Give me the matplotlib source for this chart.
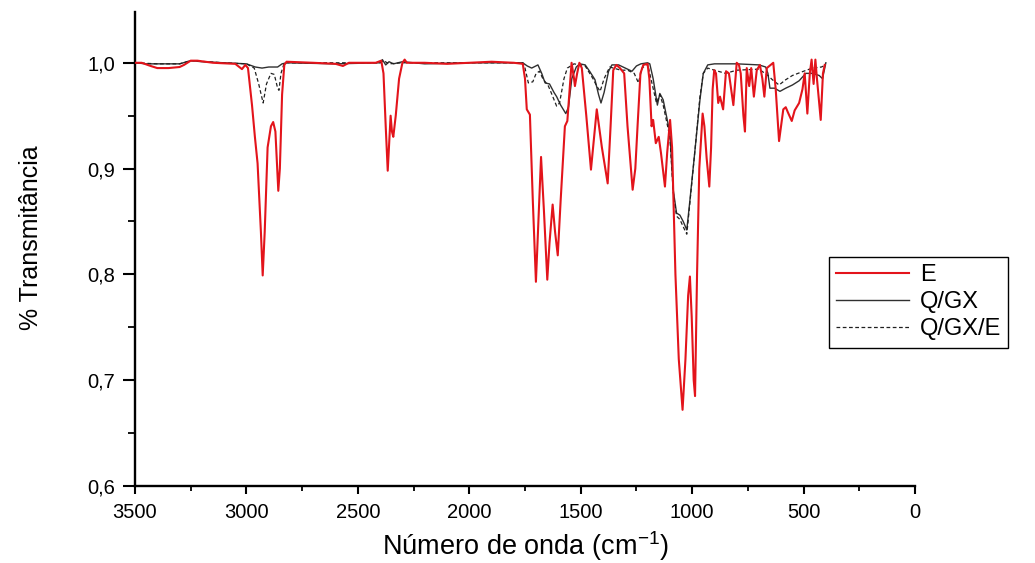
import matplotlib
matplotlib.use("Agg")
import matplotlib.pyplot as plt
from matplotlib.ticker import MultipleLocator, FuncFormatter

plt.rcParams['font.family'] = ['Liberation Sans', 'DejaVu Sans']
plt.rcParams['mathtext.fontset'] = 'custom'
plt.rcParams['mathtext.rm'] = 'Liberation Sans'
plt.rcParams['mathtext.default'] = 'regular'

# ---- data ----
e_wn = [3500, 3470, 3430, 3400, 3350, 3300, 3280, 3250, 3220, 3150, 3050, 3020, 3005, 2993,
        2975, 2962, 2950, 2935, 2927, 2918, 2905, 2890, 2880, 2870, 2862, 2857, 2850, 2840,
        2830, 2820, 2700, 2600, 2567, 2540, 2420, 2395, 2385, 2375, 2366, 2358, 2353, 2347,
        2341, 2330, 2315, 2300, 2290, 2280, 2200, 2100, 2000, 1900, 1800, 1760, 1750, 1742,
        1728, 1715, 1701, 1690, 1678, 1665, 1650, 1640, 1626, 1615, 1603, 1590, 1571, 1560,
        1541, 1530, 1526, 1516, 1506, 1495, 1475, 1454, 1440, 1428, 1405, 1379, 1366, 1354,
        1340, 1324, 1305, 1290, 1267, 1255, 1245, 1232, 1219, 1200, 1192, 1182, 1175, 1163,
        1150, 1140, 1122, 1112, 1099, 1090, 1075, 1060, 1043, 1030, 1018, 1010, 1002, 993,
        987, 978, 968, 953, 945, 935, 923, 915, 908, 901, 893, 883, 875, 861, 848, 835, 815,
        800, 790, 782, 770, 763, 755, 744, 735, 723, 710, 696, 685, 676, 665, 636, 625, 610,
        591, 580, 570, 553, 540, 520, 505, 495, 483, 472, 464, 455, 447, 440, 423, 413, 405]
e_t = [1.000, 1.000, 0.997, 0.995, 0.995, 0.996, 0.998, 1.002, 1.002, 1.000, 0.999, 0.994, 0.998, 0.995,
       0.960, 0.930, 0.905, 0.840, 0.799, 0.840, 0.920, 0.940, 0.944, 0.935, 0.900, 0.879, 0.900, 0.970,
       0.998, 1.001, 1.000, 0.999, 0.997, 1.000, 1.000, 1.002, 0.990, 0.940, 0.898, 0.930, 0.950, 0.935,
       0.930, 0.950, 0.985, 1.000, 1.003, 1.000, 1.000, 0.999, 1.000, 1.001, 1.000, 0.999, 0.985, 0.956,
       0.951, 0.870, 0.793, 0.850, 0.911, 0.860, 0.795, 0.830, 0.866, 0.840, 0.818, 0.870, 0.940, 0.945,
       1.000, 0.985, 0.978, 0.990, 1.000, 0.995, 0.950, 0.899, 0.930, 0.956, 0.920, 0.886, 0.940, 0.993,
       0.998, 0.995, 0.990, 0.940, 0.880, 0.900, 0.940, 0.990, 0.998, 0.999, 0.985, 0.940, 0.946, 0.924,
       0.930, 0.915, 0.883, 0.915, 0.946, 0.920, 0.800, 0.720, 0.672, 0.720, 0.780, 0.798, 0.760, 0.700,
       0.685, 0.800, 0.900, 0.952, 0.940, 0.910, 0.883, 0.920, 0.975, 0.993, 0.990, 0.962, 0.968, 0.956,
       0.992, 0.990, 0.960, 1.000, 0.998, 0.990, 0.950, 0.935, 0.995, 0.978, 0.995, 0.968, 0.993, 0.998,
       0.985, 0.968, 0.995, 1.000, 0.975, 0.926, 0.956, 0.958, 0.953, 0.945, 0.955, 0.962, 0.975, 0.990,
       0.952, 0.990, 1.003, 0.980, 1.003, 0.985, 0.946, 0.990, 0.998]

q_wn = [3500, 3450, 3400, 3300, 3250, 3200, 3100, 3000, 2960, 2930, 2900, 2860, 2840, 2820, 2600,
        2400, 2390, 2375, 2360, 2340, 2300, 2200, 2000, 1800, 1760, 1740, 1720, 1692, 1675, 1660,
        1640, 1620, 1608, 1590, 1567, 1555, 1540, 1520, 1504, 1480, 1460, 1436, 1420, 1409, 1395,
        1375, 1360, 1330, 1300, 1270, 1250, 1230, 1200, 1190, 1175, 1156, 1145, 1130, 1100, 1085,
        1070, 1055, 1040, 1024, 1010, 987, 965, 950, 930, 900, 800, 700, 670, 660, 651, 630, 606,
        580, 550, 520, 490, 460, 430, 415, 400]
q_t = [1.000, 0.999, 0.999, 0.999, 1.002, 1.001, 1.000, 0.999, 0.996, 0.995, 0.996, 0.996, 0.999, 1.000, 0.999,
       1.000, 1.003, 0.998, 1.001, 0.999, 1.001, 0.999, 1.000, 1.000, 1.000, 0.997, 0.995, 0.998, 0.990, 0.981,
       0.980, 0.972, 0.968, 0.960, 0.952, 0.958, 0.985, 0.996, 0.999, 0.998, 0.992, 0.984, 0.970, 0.962, 0.972,
       0.992, 0.998, 0.998, 0.995, 0.992, 0.997, 0.999, 1.000, 0.999, 0.985, 0.960, 0.971, 0.965, 0.934, 0.880,
       0.858, 0.856, 0.850, 0.842, 0.870, 0.918, 0.965, 0.990, 0.998, 0.999, 0.999, 0.998, 0.996, 0.990, 0.976,
       0.976, 0.973, 0.976, 0.979, 0.983, 0.990, 0.990, 0.988, 0.985, 1.000]

qe_wn = [3500, 3400, 3300, 3250, 3100, 3000, 2965, 2945, 2925, 2910, 2890, 2875, 2860, 2854, 2845,
         2830, 2400, 2385, 2360, 2300, 1800, 1760, 1750, 1735, 1715, 1700, 1685, 1670, 1645, 1631,
         1608, 1595, 1575, 1560, 1530, 1480, 1445, 1428, 1413, 1395, 1370, 1320, 1290, 1260, 1241,
         1225, 1200, 1185, 1160, 1145, 1130, 1100, 1085, 1070, 1055, 1040, 1024, 1010, 987, 965,
         950, 930, 900, 850, 800, 700, 660, 640, 610, 580, 550, 500, 460, 420, 400]
qe_t = [1.000, 0.999, 0.999, 1.002, 1.000, 0.999, 0.995, 0.980, 0.962, 0.980, 0.990, 0.989, 0.976, 0.974, 0.990,
        1.000, 1.000, 1.002, 0.999, 1.000, 1.000, 1.000, 0.995, 0.981, 0.982, 0.990, 0.992, 0.985, 0.978, 0.971,
        0.959, 0.962, 0.985, 0.995, 0.999, 0.997, 0.985, 0.978, 0.973, 0.985, 0.996, 0.993, 0.993, 0.990, 0.981,
        0.995, 0.999, 0.985, 0.962, 0.970, 0.960, 0.930, 0.878, 0.855, 0.852, 0.845, 0.838, 0.868, 0.918, 0.968,
        0.990, 0.995, 0.993, 0.990, 0.993, 0.994, 0.988, 0.984, 0.979, 0.984, 0.988, 0.992, 0.995, 0.996, 0.998]

labels = ["E", "Q/GX", "Q/GX/E"]
x_ticks = [3500, 3000, 2500, 2000, 1500, 1000, 500, 0]
y_ticks = [0.6, 0.7, 0.8, 0.9, 1.0]

# ---- figure ----
fig = plt.figure(figsize=(10.35, 5.63), dpi=100)
ax = fig.add_axes([135/1035, 1 - 486/563, 780/1035, 474/563])

ax.plot(e_wn, e_t, color="#e3141b", lw=1.5, label=labels[0], zorder=3,
        solid_joinstyle="round")
ax.plot(q_wn, q_t, color="#303030", lw=1.0, label=labels[1], zorder=2)
ax.plot(qe_wn, qe_t, color="#202020", lw=0.9, ls=(0, (3, 2)), label=labels[2], zorder=2)

ax.set_xlim(3500, 0)
ax.set_ylim(0.6, 1.048)
ax.set_xticks(x_ticks)
ax.set_yticks(y_ticks)
ax.xaxis.set_minor_locator(MultipleLocator(250))
ax.yaxis.set_minor_locator(MultipleLocator(0.05))
ax.yaxis.set_major_formatter(FuncFormatter(lambda v, p: f"{v:.1f}".replace(".", ",")))
ax.xaxis.set_major_formatter(FuncFormatter(lambda v, p: f"{int(round(v))}"))

for s in ["top", "right"]:
    ax.spines[s].set_visible(False)
for s in ["left", "bottom"]:
    ax.spines[s].set_linewidth(1.7)
ax.tick_params(axis="x", which="major", direction="out", length=6, width=1.5,
               labelsize=14.5, pad=6.5)
ax.tick_params(axis="x", which="minor", direction="out", length=3.8, width=1.3)
ax.tick_params(axis="y", which="major", direction="out", length=8.5, width=1.5,
               labelsize=14.5, pad=6)
ax.tick_params(axis="y", which="minor", direction="out", length=5, width=1.3)

ax.set_xlabel("Número de onda (cm$^{-1}$)", fontsize=19.5)
ax.xaxis.set_label_coords(0.5, -0.092)
ax.set_ylabel("% Transmitância", fontsize=18)
ax.yaxis.set_label_coords(-0.118, 0.524)

leg = ax.legend(loc="upper left", bbox_to_anchor=(829/1035, 1 - 257/563),
                bbox_transform=fig.transFigure, fontsize=17, frameon=True, fancybox=False,
                edgecolor="black", framealpha=1, handlelength=3.1, borderpad=0.3,
                labelspacing=0.22, handletextpad=0.45, borderaxespad=0)
leg.get_frame().set_linewidth(1.0)

fig.savefig("out.png", dpi=100)
